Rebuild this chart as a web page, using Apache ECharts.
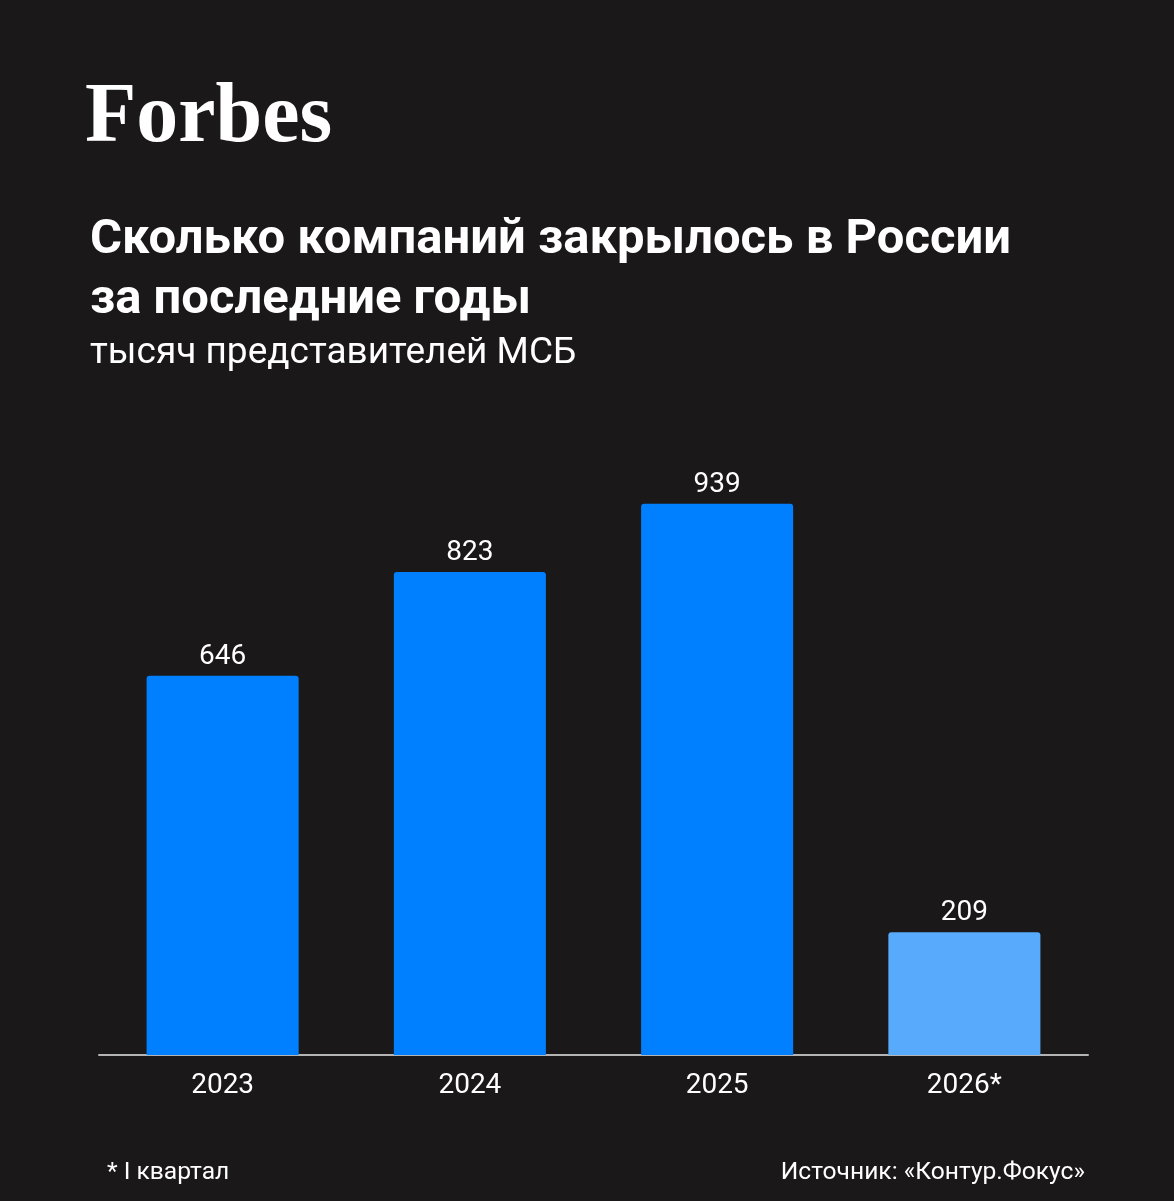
<!DOCTYPE html>
<html><head><meta charset="utf-8">
<script src="https://cdn.jsdelivr.net/npm/echarts@6/dist/echarts.min.js"></script>
<style>html,body{margin:0;padding:0;background:#1a1818}#c{width:1174px;height:1201px}</style>
</head><body><div id="c"></div>
<script>
const categories = ['2023', '2024', '2025', '2026*'];
const values = [646, 823, 939, 209];
const partial = [false, false, false, true];

const chart = echarts.init(document.getElementById('c'), null, {renderer: 'canvas'});
chart.setOption({
  backgroundColor: '#1a1818',
  animation: false,
  title: [
    {text: 'Forbes', left: 80, top: 72, textStyle: {fontFamily: 'Liberation Serif', fontWeight: 'bold', fontSize: 84, color: '#ffffff', letterSpacing: -3}},
    {text: 'Сколько компаний закрылось в России\nза последние годы', left: 85, top: 206,
     textStyle: {fontFamily: 'Roboto', fontWeight: 'bold', fontSize: 49, lineHeight: 60, color: '#ffffff'}},
    {text: 'тысяч представителей МСБ', left: 85, top: 330,
     textStyle: {fontFamily: 'Roboto', fontWeight: 'normal', fontSize: 37, color: '#ffffff'}},
    {text: '* I квартал', left: 102, top: 1155,
     textStyle: {fontFamily: 'Roboto', fontWeight: 'normal', fontSize: 24.6, color: '#ffffff'}},
    {text: 'Источник: «Контур.Фокус»', right: 84, top: 1155,
     textStyle: {fontFamily: 'Roboto', fontWeight: 'normal', fontSize: 24.6, color: '#ffffff'}}
  ],
  grid: {left: 99, right: 86, top: 468, height: 587},
  xAxis: {
    type: 'category', data: categories,
    axisLine: {lineStyle: {color: '#b4b4b4', width: 2}},
    axisTick: {show: false},
    axisLabel: {color: '#ffffff', fontFamily: 'Roboto', fontSize: 28, margin: 17}
  },
  yAxis: {type: 'value', min: 0, max: 1000, show: false, splitLine: {show: false}},
  series: [{
    type: 'bar', barWidth: '61.5%',
    data: values.map((v, i) => ({value: v, itemStyle: {color: partial[i] ? '#57aafc' : '#0080ff'}})),
    itemStyle: {borderRadius: [3, 3, 0, 0]},
    label: {show: true, position: 'top', distance: 5, color: '#ffffff', fontFamily: 'Roboto', fontSize: 28}
  }]
});
</script></body></html>
